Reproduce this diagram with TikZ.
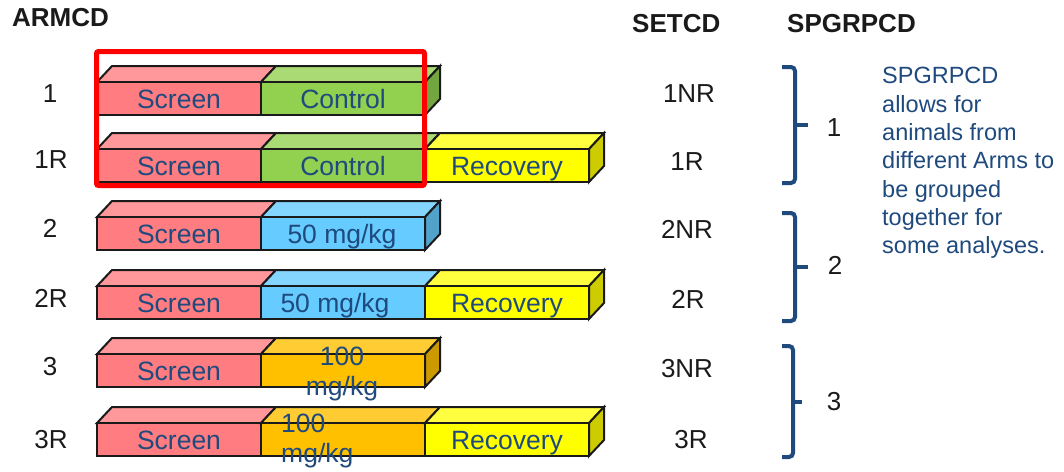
\documentclass[tikz,border=0pt]{standalone}
\usepackage{fontspec}
\setmainfont{Liberation Sans}

% face colours of the bar segments (front / top / side)
\definecolor{scrF}{HTML}{FF7C80}
\definecolor{scrT}{HTML}{FF989B}
\definecolor{ctlF}{HTML}{92D050}
\definecolor{ctlT}{HTML}{A9DA74}
\definecolor{ctlS}{HTML}{74A640}
\definecolor{lowF}{HTML}{66CCFF}
\definecolor{lowT}{HTML}{85D6FF}
\definecolor{lowS}{HTML}{52A3CC}
\definecolor{highF}{HTML}{FFC000}
\definecolor{highT}{HTML}{FFCD33}
\definecolor{highS}{HTML}{CC9A00}
\definecolor{recF}{HTML}{FFFF00}
\definecolor{recT}{HTML}{FFFF40}
\definecolor{recS}{HTML}{CCCC00}
\definecolor{navy}{HTML}{1F4A7D}
\definecolor{ink}{HTML}{1A1A1A}

% one segment of a 3-D bar: x0, x1, top of front face, front colour, top colour
\newcommand\segbox[5]{%
  \filldraw[boxline,fill=#5] (#1,#3) -- ({#1+15},{#3-16}) -- ({#2+15},{#3-16}) -- (#2,#3) -- cycle;
  \filldraw[boxline,fill=#4] (#1,#3) rectangle (#2,{#3+33});
}
% right-hand side face of a bar: x, top of front face, colour
\newcommand\sideface[3]{%
  \filldraw[boxline,fill=#3] (#1,#2) -- ({#1+15},{#2-16}) -- ({#1+15},{#2+17}) -- (#1,{#2+33}) -- cycle;
}

\begin{document}
\begin{tikzpicture}[x=1pt,y=-1pt,
  boxline/.style={draw=ink,line width=2pt},
  header/.style={anchor=base west,inner sep=0pt,text=ink,font=\fontsize{26}{30}\selectfont\bfseries},
  code/.style={anchor=base,inner sep=0pt,text=ink,font=\fontsize{26}{30}\selectfont},
  seglabel/.style={anchor=base,inner sep=0pt,text=navy,font=\fontsize{26.5}{30}\selectfont},
  twoline/.style={inner sep=0pt,text=navy,font=\fontsize{26.5}{30}\selectfont},
  bracket/.style={draw=navy,line width=4pt,rounded corners=4pt},
  nub/.style={draw=navy,line width=4pt},
  note/.style={anchor=north west,inner sep=0pt,align=left,text=navy,
    font=\fontsize{23.5}{28.3}\selectfont},
]
\path[use as bounding box] (0,0) rectangle (1064,471);

% column headers
\node[header] (hArm) at (12,27) {ARMCD};
\node[header] (hSet) at (632,32) {SETCD};
\node[header] (hGrp) at (787,32) {SPGRPCD};

% arm codes
\node[code] (a1)  at (50,102) {1};
\node[code] (a1R) at (51,168) {1R};
\node[code] (a2)  at (50,237) {2};
\node[code] (a2R) at (51,307) {2R};
\node[code] (a3)  at (50,375) {3};
\node[code] (a3R) at (51,448) {3R};

% set codes
\node[code] (s1NR) at (689,102) {1NR};
\node[code] (s1R)  at (687,170) {1R};
\node[code] (s2NR) at (687,238) {2NR};
\node[code] (s2R)  at (688,308) {2R};
\node[code] (s3NR) at (687,377) {3NR};
\node[code] (s3R)  at (691,448) {3R};

% arm 1
\segbox{97}{261}{82}{scrF}{scrT}
\segbox{261}{425}{82}{ctlF}{ctlT}
\sideface{425}{82}{ctlS}
\node[seglabel] (t1a) at (179,108) {Screen};
\node[seglabel] (t1b) at (343,108) {Control};

% arm 1R
\segbox{97}{261}{149}{scrF}{scrT}
\segbox{261}{425}{149}{ctlF}{ctlT}
\segbox{425}{589}{149}{recF}{recT}
\sideface{589}{149}{recS}
\node[seglabel] (t1Ra) at (179,175) {Screen};
\node[seglabel] (t1Rb) at (343,175) {Control};
\node[seglabel] (t1Rc) at (507,175) {Recovery};

% arm 2
\segbox{97}{261}{217}{scrF}{scrT}
\segbox{261}{425}{217}{lowF}{lowT}
\sideface{425}{217}{lowS}
\node[seglabel] (t2a) at (179,243) {Screen};
\node[seglabel] (t2b) at (342,243) {50 mg/kg};

% arm 2R
\segbox{97}{261}{286}{scrF}{scrT}
\segbox{261}{425}{286}{lowF}{lowT}
\segbox{425}{589}{286}{recF}{recT}
\sideface{589}{286}{recS}
\node[seglabel] (t2Ra) at (179,312) {Screen};
\node[seglabel] (t2Rb) at (335,312) {50 mg/kg};
\node[seglabel] (t2Rc) at (507,312) {Recovery};

% arm 3
\segbox{97}{261}{354}{scrF}{scrT}
\segbox{261}{425}{354}{highF}{highT}
\sideface{425}{354}{highS}
\node[seglabel] (t3a) at (179,380) {Screen};
\node[twoline,align=center] (t3b) at (342,374) {100\\mg/kg};

% arm 3R
\segbox{97}{261}{423}{scrF}{scrT}
\segbox{261}{425}{423}{highF}{highT}
\segbox{425}{589}{423}{recF}{recT}
\sideface{589}{423}{recS}
\node[seglabel] (t3Ra) at (179,449) {Screen};
\node[twoline,align=left,anchor=west] (t3Rb) at (281,441) {100\\mg/kg};
\node[seglabel] (t3Rc) at (507,449) {Recovery};

% highlight frame around the control arms
\draw[red,line width=5pt,rounded corners=2pt] (96.5,51.5) rectangle (424.5,185.5);

% subject-group brackets and their codes
\draw[bracket] (782,67) -- (795,67) -- (795,183) -- (782,183);
\draw[nub] (795,125) -- (808,125);
\node[code] (g1) at (834,136) {1};

\draw[bracket] (782,213) -- (795,213) -- (795,321) -- (782,321);
\draw[nub] (795,267) -- (808,267);
\node[code] (g2) at (835,274) {2};

\draw[bracket] (782,346) -- (793,346) -- (793,457) -- (782,457);
\draw[nub] (793,402) -- (802,402);
\node[code] (g3) at (834,410) {3};

% explanatory note
\node[note] (note) at (882,67.2) {SPGRPCD\\allows for\\animals from\\different Arms to\\be grouped\\together for\\some analyses.};
\end{tikzpicture}
\end{document}
